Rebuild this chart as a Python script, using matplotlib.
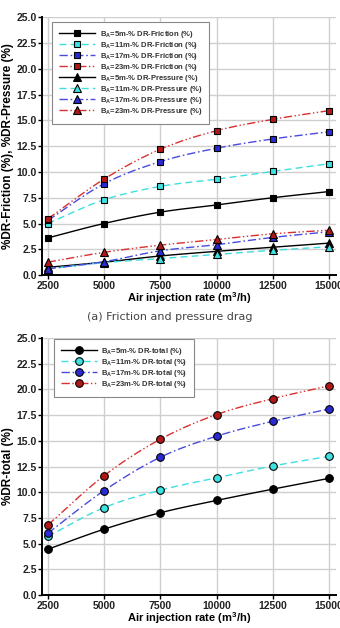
import numpy as np
import matplotlib
matplotlib.use("Agg")
import matplotlib.pyplot as plt

plt.rcParams['font.family'] = ['Liberation Sans', 'DejaVu Sans']

# air injection rate (m3/h)
air_rate = [2500, 5000, 7500, 10000, 12500, 15000]

# (a) friction drag reduction (%)
fric_5m = [3.6, 5.0, 6.1, 6.8, 7.5, 8.1]
fric_11m = [5.0, 7.3, 8.6, 9.3, 10.05, 10.8]
fric_17m = [5.3, 8.85, 11.0, 12.3, 13.2, 13.9]
fric_23m = [5.45, 9.3, 12.2, 14.0, 15.1, 15.95]

# (a) pressure drag reduction (%)
pres_5m = [0.75, 1.25, 1.85, 2.3, 2.7, 3.1]
pres_11m = [0.6, 1.2, 1.6, 2.0, 2.4, 2.75]
pres_17m = [0.6, 1.3, 2.35, 2.95, 3.65, 4.2]
pres_23m = [1.25, 2.2, 2.9, 3.45, 4.0, 4.35]

# (b) total drag reduction (%)
tot_5m = [4.45, 6.4, 8.0, 9.2, 10.3, 11.35]
tot_11m = [5.7, 8.5, 10.2, 11.4, 12.55, 13.5]
tot_17m = [6.0, 10.15, 13.4, 15.45, 16.9, 18.1]
tot_23m = [6.8, 11.6, 15.15, 17.55, 19.1, 20.35]

labels = ["5m", "11m", "17m", "23m"]
y_ticks = [0.0, 2.5, 5.0, 7.5, 10.0, 12.5, 15.0, 17.5, 20.0, 22.5, 25.0]

# line colour, marker fill, dash pattern for each B_A
line_col = ['black', '#3fdede', '#4a4ae0', '#d83030']
fill_col = ['black', '#3fe2e2', '#2a2ad2', '#b01818']
dash = [(None, None), (5, 3), (6, 2, 1.2, 2), (6, 1.8, 1, 1.8, 1, 1.8)]


def smooth(x, y, n=25):
    """cubic hermite curve through the points"""
    x = np.asarray(x, float)
    y = np.asarray(y, float)
    m = np.gradient(y, x)
    xs, ys = [], []
    t = np.linspace(0, 1, n)
    for i in range(len(x) - 1):
        h = x[i + 1] - x[i]
        h00 = 2 * t**3 - 3 * t**2 + 1
        h10 = t**3 - 2 * t**2 + t
        h01 = -2 * t**3 + 3 * t**2
        h11 = t**3 - t**2
        ys.append(h00 * y[i] + h10 * h * m[i] + h01 * y[i + 1] + h11 * h * m[i + 1])
        xs.append(x[i] + t * h)
    return np.concatenate(xs), np.concatenate(ys)


def draw_series(ax, y, i, marker, ms, name):
    xs, ys = smooth(air_rate, y)
    ln, = ax.plot(xs, ys, color=line_col[i], lw=1.0, zorder=3)
    if dash[i][0] is not None:
        ln.set_dashes(dash[i])
    ax.plot(air_rate, y, ls='none', marker=marker, ms=ms, mfc=fill_col[i],
            mec='black', mew=0.8, zorder=4)
    h, = ax.plot([], [], color=line_col[i], lw=1.0, marker=marker, ms=ms,
                 mfc=fill_col[i], mec='black', mew=0.8, label=name)
    if dash[i][0] is not None:
        h.set_dashes(dash[i])


def style_axes(ax, ylabel):
    ax.set_xlim(2260, 15300)
    ax.set_ylim(0, 25)
    ax.set_xticks(air_rate)
    ax.set_yticks(y_ticks)
    ax.set_yticklabels(["%.1f" % v for v in y_ticks])
    ax.grid(True, color='#cfcfcf', lw=1.0, zorder=0)
    for s in ['top', 'right']:
        ax.spines[s].set_visible(False)
    for s in ['left', 'bottom']:
        ax.spines[s].set_linewidth(1.4)
    ax.tick_params(direction='out', length=3, width=1.0, pad=1,
                   labelsize=7.5, labelcolor='#222222')
    for lab in ax.get_xticklabels() + ax.get_yticklabels():
        lab.set_fontweight('bold')
    ax.set_xlabel("Air injection rate (m$^\\mathregular{3}$/h)", fontsize=8,
                  fontweight='bold', labelpad=0)
    ax.set_ylabel(ylabel, fontsize=8.5, fontweight='bold', labelpad=2)


def add_legend(ax, anchor):
    leg = ax.legend(loc='upper left', bbox_to_anchor=anchor, fontsize=5.5,
                    fancybox=False, edgecolor='#888888', framealpha=1,
                    handlelength=4.7, handleheight=0.7, labelspacing=0.0,
                    borderpad=0.9, handletextpad=0.6, borderaxespad=0)
    leg.get_frame().set_linewidth(0.8)
    for t in leg.get_texts():
        t.set_fontweight('bold')
        t.set_color('#333333')
    return leg


fig = plt.figure(figsize=(3.4, 6.28), dpi=100)

# (a) friction and pressure drag
ax1 = fig.add_axes([0.1244, 0.562, 0.8636, 0.4105])
fric = [fric_5m, fric_11m, fric_17m, fric_23m]
pres = [pres_5m, pres_11m, pres_17m, pres_23m]
for i in range(4):
    draw_series(ax1, fric[i], i, 's', 5,
                "B$_\\mathregular{A}$=%s-%% DR-Friction (%%)" % labels[i])
for i in range(4):
    draw_series(ax1, pres[i], i, '^', 5.5,
                "B$_\\mathregular{A}$=%s-%% DR-Pressure (%%)" % labels[i])
style_axes(ax1, "%DR-Friction (%), %DR-Pressure (%)")
add_legend(ax1, (0.034, 0.982))

fig.text(0.5, 1 - 317 / 628, "(a) Friction and pressure drag", ha='center',
         va='center', fontsize=8, color='#444444', family='DejaVu Sans')

# (b) total drag
ax2 = fig.add_axes([0.1244, 0.0525, 0.8636, 0.4093])
tot = [tot_5m, tot_11m, tot_17m, tot_23m]
for i in range(4):
    draw_series(ax2, tot[i], i, 'o', 5.5,
                "B$_\\mathregular{A}$=%s-%% DR-total (%%)" % labels[i])
style_axes(ax2, "%DR-total (%)")
add_legend(ax2, (0.04, 0.995))

fig.savefig("out.png", dpi=100)
